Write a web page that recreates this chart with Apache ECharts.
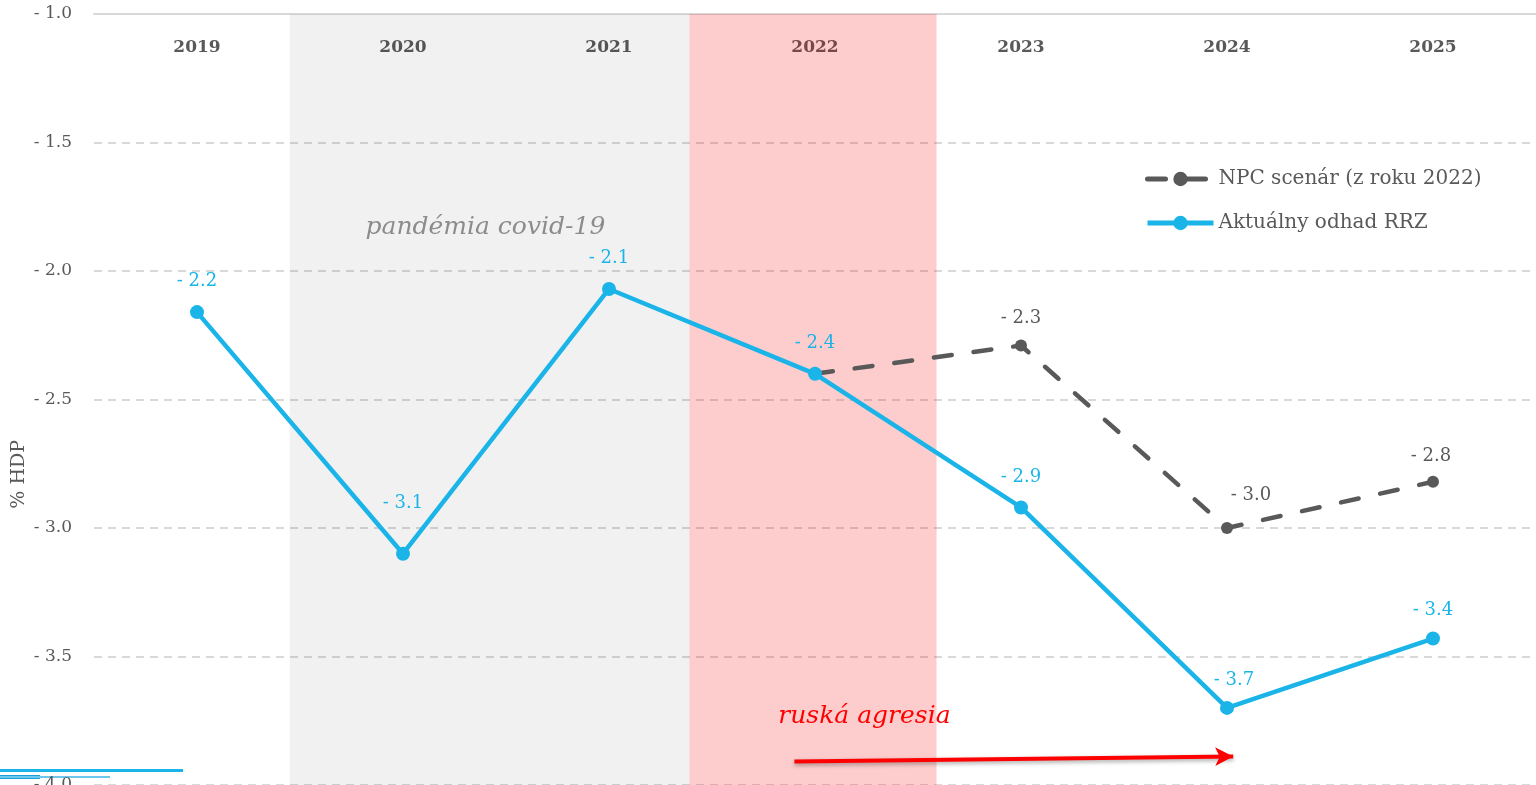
<!DOCTYPE html>
<html><head><meta charset="utf-8">
<script src="https://cdn.jsdelivr.net/npm/echarts@6/dist/echarts.min.js"></script>
<style>html,body{margin:0;padding:0;background:#fff}#c{width:1536px;height:785px}</style>
</head><body><div id="c"></div>
<script>
const years = ['2019','2020','2021','2022','2023','2024','2025'];
const rrz = [-2.16, -3.10, -2.07, -2.40, -2.92, -3.70, -3.43];
const npc = [null, null, null, -2.40, -2.29, -3.00, -2.82];
const rrzLabelOffsets = [[0,-31],[0,-50],[0,-31],[0,-30],[0,-30],[7,-28],[0,-28]];
const npcLabelOffsets = [null,null,null,null,[0,-27],[24,-33],[-2,-25]];
const yTicks = {min:-4.0, max:-1.0, interval:0.5};
const covidSpan = [0.45, 2.39];
const warSpan = [2.39, 3.59];
const arrow = [[2.90, -3.909], [5.03, -3.889]];
const covidText = {x:1.40, y:-1.83, text:'pandémia covid-19'};
const warText = {x:3.24, y:-3.734, text:'ruská agresia'};

const FONT = 'DejaVu Serif';
const BLUE = '#1ab4e8', GRAY = '#595959';
const fmt = v => '- ' + Math.abs(v).toFixed(1);

function mkData(vals, offs, color) {
  return vals.map((v, i) => {
    if (v === null) return null;
    const o = offs[i];
    return {value: v, label: o ? {show:true, position:'inside', offset:o, formatter: p => fmt(p.value), color: color, fontFamily: FONT, fontSize: 18} : {show:false}};
  });
}

const chart = echarts.init(document.getElementById('c'));
chart.setOption({
  animation:false,
  grid:{left:94, right:0, top:14, bottom:0, outerBoundsMode:'none', containLabel:false},
  legend:{
    orient:'vertical', left:1140, top:164, itemGap:24, itemWidth:66, itemHeight:18,
    textStyle:{color:GRAY, fontFamily:FONT, fontSize:20},
    lineStyle:{width:5},
    data:['NPC scenár (z roku 2022)','Aktuálny odhad RRZ']
  },
  xAxis:[{
    type:'category', data:years, position:'top', boundaryGap:true,
    axisLine:{show:true, lineStyle:{color:'#d9d9d9', width:2}},
    axisTick:{show:false},
    axisLabel:{color:GRAY, fontFamily:FONT, fontWeight:'bold', fontSize:17, margin:-42}
  },{
    type:'value', min:-0.5, max:6.5, show:false, position:'top'
  }],
  yAxis:{
    type:'value', min:yTicks.min, max:yTicks.max, interval:yTicks.interval,
    axisLine:{show:false}, axisTick:{show:false},
    axisLabel:{color:GRAY, fontFamily:FONT, fontSize:17, margin:22, formatter:fmt},
    splitLine:{lineStyle:{color:'#d9d9d9', type:[8,6], width:2}}
  },
  graphic:[
    {type:'text', left:10, top:440, rotation:Math.PI/2, style:{text:'% HDP', fill:GRAY, font:'19px "'+FONT+'"'}},
    {type:'rect', shape:{x:0, y:769, width:183, height:3}, style:{fill:'#1ab4e8'}},
    {type:'rect', shape:{x:0, y:775, width:40, height:4}, style:{fill:'#1a9fd8'}},
    {type:'rect', shape:{x:0, y:776, width:110, height:2}, style:{fill:'#6cc8ee'}}
  ],
  series:[
    {
      name:'NPC scenár (z roku 2022)', type:'line', z:3,
      data: mkData(npc, npcLabelOffsets, GRAY),
      symbol:'circle', symbolSize:12, showSymbol:true,
      lineStyle:{color:GRAY, width:4.5, type:[18,22], cap:'round'},
      itemStyle:{color:GRAY}
    },
    {
      name:'Aktuálny odhad RRZ', type:'line', z:4,
      data: mkData(rrz, rrzLabelOffsets, BLUE),
      symbol:'circle', symbolSize:14,
      lineStyle:{color:BLUE, width:4.5},
      itemStyle:{color:BLUE}
    },
    {
      type:'line', xAxisIndex:1, data:[], zlevel:1, z:10, silent:true,
      markArea:{silent:true, data:[
        [{xAxis:covidSpan[0], itemStyle:{color:'rgba(0,0,0,0.055)'}}, {xAxis:covidSpan[1]}],
        [{xAxis:warSpan[0], itemStyle:{color:'rgba(245,0,0,0.2)'}}, {xAxis:warSpan[1]}]
      ]},
      markLine:{silent:true, symbol:['none','arrow'], symbolSize:[14,18],
        lineStyle:{color:'#ff0000', width:4, type:'solid', shadowColor:'rgba(0,0,0,0.35)', shadowBlur:4, shadowOffsetY:2},
        label:{show:false},
        data:[[{coord:arrow[0]}, {coord:arrow[1]}]]
      },
      markPoint:{silent:true, symbol:'circle', symbolSize:0, data:[
        {coord:[covidText.x, covidText.y], label:{show:true, formatter:covidText.text, color:'#8c8c8c', fontFamily:FONT, fontStyle:'italic', fontSize:25}},
        {coord:[warText.x, warText.y], label:{show:true, formatter:warText.text, color:'#ff0000', fontFamily:FONT, fontStyle:'italic', fontSize:25}}
      ]}
    }
  ]
});
</script></body></html>
